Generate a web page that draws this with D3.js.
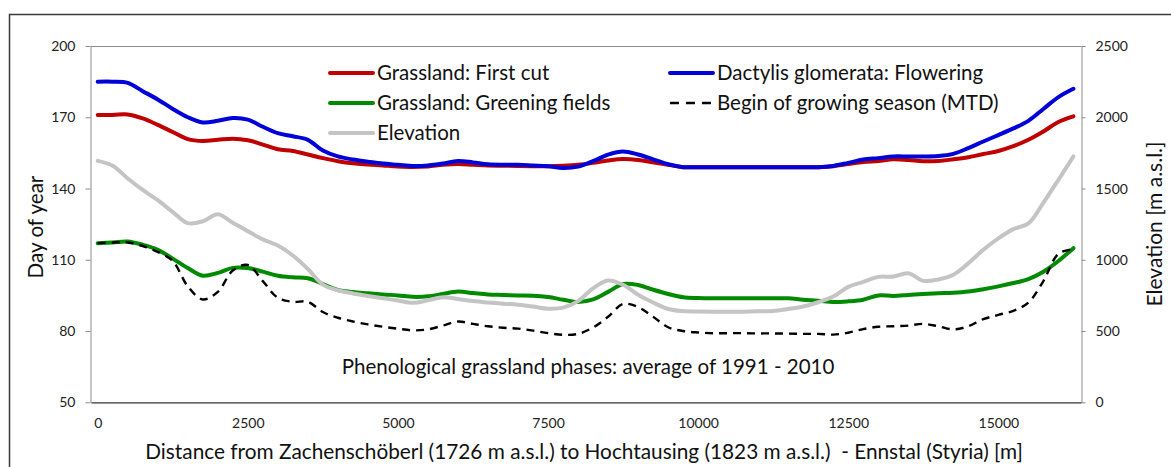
<!DOCTYPE html>
<html>
<head>
<meta charset="utf-8">
<script src="https://cdn.jsdelivr.net/npm/d3@7"></script>
<style>
  html, body { margin: 0; padding: 0; background: #fff; }
  svg { display: block; font-family: Lato, "Open Sans", sans-serif; }
</style>
</head>
<body>
<svg id="chart" width="1171" height="467"></svg>
<script>
// Distance along the transect [m]
const distance = [
  0, 250, 500, 750, 1000, 1250, 1500, 1750, 2000, 2250, 2500, 2750, 3000, 3250, 3500, 3750,
  4000, 4250, 4500, 4750, 5000, 5250, 5500, 5750, 6000, 6250, 6500, 6750, 7000, 7250, 7500, 7750,
  8000, 8250, 8500, 8750, 9000, 9250, 9500, 9750, 10000, 10250, 10500, 10750, 11000, 11250, 11500, 11750,
  12000, 12250, 12500, 12750, 13000, 13250, 13500, 13750, 14000, 14250, 14500, 14750, 15000, 15250, 15500, 15750,
  16000, 16250
];

// Day of year: Grassland first cut
const firstCut = [
  171, 171, 171.2, 169.5, 166.8, 163.8, 160.8, 160, 160.5, 161, 160.3, 158.5, 156.5, 155.8, 154.3, 152.8,
  151.5, 150.6, 150.1, 149.7, 149.3, 149.1, 149.3, 150, 150.3, 150, 149.7, 149.6, 149.5, 149.4, 149.4, 149.6,
  150, 150.8, 151.8, 152.4, 152, 151, 150, 149, 149, 149, 149, 149, 149, 149, 149, 149,
  149, 149.4, 150.3, 151.2, 151.6, 152.3, 152, 151.5, 151.6, 152.3, 153.2, 154.5, 155.8, 157.8, 160.5, 164,
  168, 170.4
];

// Day of year: Dactylis glomerata flowering
const flowering = [
  185, 185, 184.5, 181, 177.5, 173.5, 170, 167.8, 168.5, 169.7, 169, 166, 163.3, 162, 160.5, 156,
  153.5, 152.2, 151.3, 150.5, 150, 149.5, 149.7, 150.5, 151.6, 151, 150.2, 150, 150, 149.7, 149.4, 148.6,
  149.2, 151.5, 154.3, 155.6, 154.3, 152.3, 150.2, 149, 149, 149, 149, 149, 149, 149, 149, 149,
  149, 149.5, 150.8, 152.2, 152.8, 153.5, 153.5, 153.5, 153.7, 154.6, 157, 159.8, 162.5, 165.3, 168.5, 173.5,
  178.5, 182
];

// Day of year: Grassland greening fields
const greening = [
  117, 117.3, 117.7, 116.3, 114.2, 110.5, 106.5, 103.3, 104.5, 106.6, 106.5, 105, 103.3, 102.6, 102.2, 99.8,
  97.3, 96.4, 95.9, 95.4, 95, 94.4, 94.6, 95.6, 96.6, 96, 95.4, 95.2, 95, 94.9, 94.3, 93.2,
  92.2, 93.3, 96.5, 99.8, 99.4, 97.4, 95.6, 94.2, 93.9, 93.8, 93.8, 93.8, 93.8, 93.8, 93.8, 93.2,
  92.8, 92.2, 92.5, 93.2, 95, 94.8, 95.2, 95.6, 95.9, 96.1, 96.6, 97.6, 98.8, 100.2, 101.9, 105,
  109.5, 114.9
];

// Day of year: begin of growing season (MTD)
const growingSeason = [
  117, 117.3, 117.3, 115.8, 113.3, 109.5, 98.8, 93.3, 96.5, 105.5, 107.8, 101, 94, 92.3, 92.3, 88,
  85.6, 84, 82.8, 81.8, 81, 80.3, 80.7, 82.3, 84, 83, 82, 81.4, 81, 80.2, 79.1, 78.4,
  78.8, 81.5, 86, 91.4, 90.1, 86, 81.6, 80, 79.4, 79.1, 79.1, 79.1, 79, 79, 78.9, 78.8,
  78.8, 78.5, 79.3, 80.8, 81.8, 82, 82.3, 83, 82, 80.7, 82, 85, 86.8, 88.5, 92, 101,
  112.5, 114.5
];

// Elevation [m a.s.l.]
const elevation = [
  1694, 1660, 1570, 1490, 1418, 1335, 1257, 1270, 1320, 1260, 1200, 1143, 1100, 1030, 935, 826,
  786, 764, 746, 730, 715, 698, 715, 737, 725, 710, 700, 692, 685, 672, 657, 664,
  710, 800, 855, 825, 755, 700, 655, 640, 637, 636, 636, 636, 638, 641, 655, 672,
  702, 742, 810, 845, 880, 882, 905, 852, 862, 895, 975, 1070, 1150, 1215, 1255, 1400,
  1560, 1725
];

const xTicks = [0, 2500, 5000, 7500, 10000, 12500, 15000];
const dayTicks = [50, 80, 110, 140, 170, 200];
const elevTicks = [0, 500, 1000, 1500, 2000, 2500];

const series = [
  { name: "Grassland: First cut", values: firstCut, color: "#c00000", width: 4, dash: null, axis: "day" },
  { name: "Grassland: Greening fields", values: greening, color: "#008a00", width: 4, dash: null, axis: "day" },
  { name: "Dactylis glomerata: Flowering", values: flowering, color: "#0000d8", width: 4, dash: null, axis: "day" },
  { name: "Begin of growing season (MTD)", values: growingSeason, color: "#000", width: 2.4, dash: "8,6", axis: "day" },
  { name: "Elevation", values: elevation, color: "#c4c4c4", width: 4, dash: null, axis: "elev" }
];

const legendLayout = [
  { key: "Grassland: First cut", col: 0, row: 0 },
  { key: "Grassland: Greening fields", col: 0, row: 1 },
  { key: "Elevation", col: 0, row: 2 },
  { key: "Dactylis glomerata: Flowering", col: 1, row: 0 },
  { key: "Begin of growing season (MTD)", col: 1, row: 1 }
];

const svg = d3.select("#chart");
const plot = { left: 91, right: 1081, top: 46, bottom: 402.3 };

const x = d3.scaleLinear().domain([-112, 16377]).range([plot.left, plot.right]);
const yDay = d3.scaleLinear().domain([50, 200]).range([plot.bottom, plot.top]);
const yElev = d3.scaleLinear().domain([0, 2500]).range([plot.bottom, plot.top]);
const plain = d3.format("d");

// outer chart frame
svg.append("rect")
  .attr("x", 9.5).attr("y", 14.5)
  .attr("width", 1200).attr("height", 500)
  .attr("fill", "none").attr("stroke", "#3a3a3a").attr("stroke-width", 1.5);

// top edge of plot area
svg.append("line")
  .attr("x1", plot.left).attr("x2", plot.right)
  .attr("y1", plot.top + 0.5).attr("y2", plot.top + 0.5)
  .attr("stroke", "#8c8c8c").attr("stroke-width", 1);

const tickFont = 14;

// left axis
const gLeft = svg.append("g").attr("transform", `translate(${plot.left - 0.5},0)`)
  .call(d3.axisLeft(yDay).tickValues(dayTicks).tickFormat(plain).tickSize(5).tickSizeOuter(0).tickPadding(10));
gLeft.select(".domain").attr("stroke", "#8c8c8c");
gLeft.selectAll(".tick line").attr("stroke", "#8c8c8c");
gLeft.selectAll(".tick text").attr("font-size", tickFont).attr("font-family", "Lato").attr("fill", "#222");

// right axis
const gRight = svg.append("g").attr("transform", `translate(${plot.right + 0.5},0)`)
  .call(d3.axisRight(yElev).tickValues(elevTicks).tickFormat(plain).tickSize(4).tickSizeOuter(0).tickPadding(10));
gRight.select(".domain").attr("stroke", "#8c8c8c");
gRight.selectAll(".tick line").attr("stroke", "#8c8c8c");
gRight.selectAll(".tick text").attr("font-size", tickFont).attr("font-family", "Lato").attr("fill", "#222");

// bottom axis
const gBottom = svg.append("g").attr("transform", `translate(0,${plot.bottom})`)
  .call(d3.axisBottom(x).tickValues(xTicks).tickFormat(plain).tickSize(0).tickSizeOuter(0).tickPadding(0));
gBottom.select(".domain").attr("stroke", "#333").attr("stroke-width", 1.2);
gBottom.selectAll(".tick text")
  .attr("y", 21).attr("dy", "0.35em")
  .attr("font-size", tickFont).attr("font-family", "Lato").attr("fill", "#222");

// series lines
const lineFor = s => d3.line()
  .x((d, i) => x(distance[i]))
  .y(d => (s.axis === "elev" ? yElev(d) : yDay(d)))
  .curve(d3.curveCatmullRom.alpha(0.5));

svg.append("g").selectAll("path")
  .data(series)
  .join("path")
  .attr("d", s => lineFor(s)(s.values))
  .attr("fill", "none")
  .attr("stroke", s => s.color)
  .attr("stroke-width", s => s.width)
  .attr("stroke-dasharray", s => s.dash)
  .attr("stroke-linejoin", "round")
  .attr("stroke-linecap", s => (s.dash ? "butt" : "round"));

// legend
const legendCols = [330, 670];
const legendRowY = [73, 103, 133];
const legend = svg.append("g");
legendLayout.forEach(item => {
  const s = series.find(d => d.name === item.key);
  const lx = legendCols[item.col], ly = legendRowY[item.row];
  legend.append("line")
    .attr("x1", lx).attr("x2", lx + 43).attr("y1", ly).attr("y2", ly)
    .attr("stroke", s.color).attr("stroke-width", s.width)
    .attr("stroke-dasharray", s.dash ? "9,7" : null)
    .attr("stroke-linecap", s.dash ? "butt" : "round");
  legend.append("text")
    .attr("x", lx + 47).attr("y", ly).attr("dy", "0.36em")
    .attr("font-size", 20.5).attr("fill", "#111")
    .text(s.name);
});

// annotation inside the plot
svg.append("text")
  .attr("x", 588).attr("y", 367).attr("dy", "0.36em")
  .attr("text-anchor", "middle").attr("font-size", 20.5).attr("fill", "#111")
  .text("Phenological grassland phases: average of 1991 - 2010");

// axis titles
svg.append("text")
  .attr("x", 584).attr("y", 452).attr("dy", "0.36em")
  .attr("text-anchor", "middle").attr("font-size", 20.8).attr("fill", "#111")
  .attr("xml:space", "preserve")
  .text("Distance from Zachenschöberl (1726 m a.s.l.) to Hochtausing (1823 m a.s.l.)  - Ennstal (Styria) [m]");

svg.append("text")
  .attr("transform", "translate(36,227) rotate(-90)")
  .attr("dy", "0.36em")
  .attr("text-anchor", "middle").attr("font-size", 20.6).attr("fill", "#111")
  .text("Day of year");

svg.append("text")
  .attr("transform", "translate(1154,224) rotate(-90)")
  .attr("dy", "0.36em")
  .attr("text-anchor", "middle").attr("font-size", 21).attr("fill", "#111")
  .text("Elevation [m a.s.l.]");
</script>
</body>
</html>
